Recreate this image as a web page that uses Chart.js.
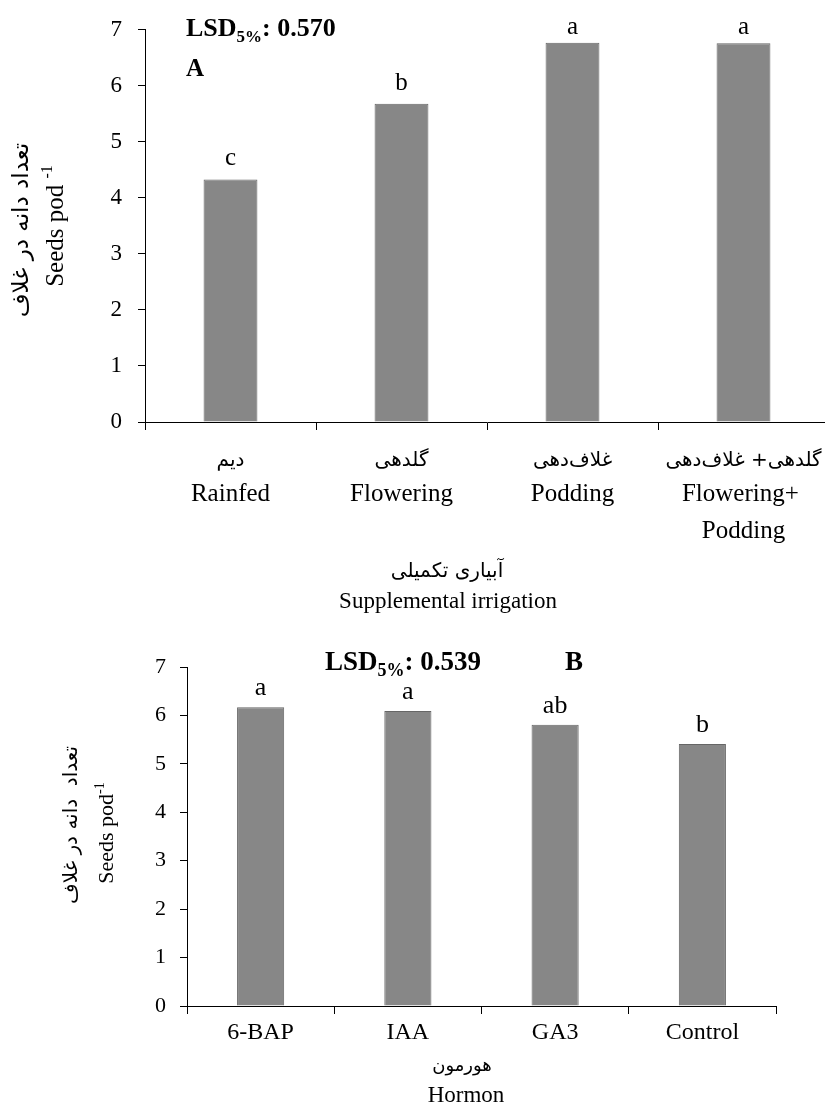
<!DOCTYPE html>
<html><head><meta charset="utf-8">
<script src="https://cdn.jsdelivr.net/npm/chart.js@4.4.1/dist/chart.umd.min.js"></script>
<style>
html,body{margin:0;padding:0;background:#fff;overflow:hidden;width:825px;height:1106px;position:relative;}
#chartA{position:absolute;left:0;top:0;}
#chartB{position:absolute;left:0;top:620px;}
</style></head><body>
<canvas id="chartA" width="840" height="620"></canvas>
<canvas id="chartB" width="825" height="486"></canvas>
<script>
// ---------- DATA ----------
const irrigationLabelsEn = ['Rainfed', 'Flowering', 'Podding', ['Flowering+ ', 'Podding']];
const irrigationLabelsFa = ['دیم', 'گلدهی', 'غلاف\u200Cدهی', 'گلدهی+ غلاف\u200Cدهی'];
const seedsPerPodIrrigation = [4.33, 5.68, 6.77, 6.76];
const lettersIrrigation = ['c', 'b', 'a', 'a'];

const hormoneLabels = ['6-BAP', 'IAA', 'GA3', 'Control'];
const seedsPerPodHormone = [6.17, 6.09, 5.81, 5.41];
const lettersHormone = ['a', 'a', 'ab', 'b'];

const yAxisMin = 0, yAxisMax = 7, yAxisStep = 1;

// ---------- STYLE ----------
const SERIF = "'Liberation Serif', 'Times New Roman', serif";
const FA = "'DejaVu Sans', sans-serif";
const BAR_FILL = '#878787';
const BAR_EDGE = '#666666';

function drawRuns(ctx, runs, x, y, align) {
  let total = 0;
  runs.forEach(r => { ctx.font = r.font; r.w = ctx.measureText(r.text).width; total += r.w; });
  let cx = align === 'center' ? x - total / 2 : x;
  ctx.textAlign = 'left';
  runs.forEach(r => { ctx.font = r.font; ctx.fillText(r.text, cx, y + (r.dy || 0)); cx += r.w; });
}

const annotPlugin = {
  id: 'annot',
  afterDatasetsDraw(chart, args, o) {
    const ctx = chart.ctx;
    ctx.save();
    ctx.fillStyle = '#000';
    ctx.textBaseline = 'alphabetic';
    // significance letters above bars
    const meta = chart.getDatasetMeta(0);
    ctx.font = o.letterFont; ctx.textAlign = 'center';
    meta.data.forEach((bar, i) => {
      const yb = Math.max(bar.y - o.letterGap, o.letterMinY);
      ctx.fillText(o.letters[i], bar.x, yb);
    });
    // Persian category labels
    if (o.faLabels) {
      const xs = chart.scales.x;
      ctx.font = o.faFont; ctx.textAlign = 'center';
      o.faLabels.forEach((t, i) => ctx.fillText(t, xs.getPixelForValue(i), o.faY));
    }
    // x titles
    ctx.textAlign = 'center';
    ctx.font = o.xTitleFaFont; ctx.fillText(o.xTitleFa, o.xTitleFaX, o.xTitleFaY);
    ctx.font = o.xTitleFont; ctx.fillText(o.xTitleEn, o.xTitleEnX, o.xTitleEnY);
    // LSD annotation
    drawRuns(ctx, o.lsdRuns, o.lsdX, o.lsdY, 'left');
    ctx.font = o.panelFont; ctx.textAlign = 'left';
    ctx.fillText(o.panel, o.panelX, o.panelY);
    // rotated y titles
    ctx.textBaseline = 'middle';
    ctx.save();
    ctx.translate(o.yFaX, o.yFaY); ctx.rotate(-Math.PI / 2);
    ctx.font = o.yFaFont; ctx.textAlign = 'center';
    ctx.fillText(o.yTitleFa, 0, 0);
    ctx.restore();
    ctx.save();
    ctx.translate(o.yEnX, o.yEnY); ctx.rotate(-Math.PI / 2);
    drawRuns(ctx, o.yEnRuns, 0, 0, 'center');
    ctx.restore();
    ctx.restore();
  }
};

function axisOpts(cfg) {
  return {
    x: {
      offset: true,
      afterFit: s => { s.height = cfg.xHeight; s.paddingLeft = 0; s.paddingRight = 0; },
      border: { display: true, color: '#000', width: 1 },
      grid: { display: true, offset: true, drawOnChartArea: false, drawTicks: true, tickLength: 8, color: '#000', lineWidth: 1 },
      ticks: { color: '#000', font: { family: SERIF, size: cfg.xFont, lineHeight: cfg.xLine }, padding: cfg.xPad, maxRotation: 0, autoSkip: false }
    },
    y: {
      min: yAxisMin, max: yAxisMax,
      afterFit: s => { s.width = cfg.yWidth; },
      border: { display: true, color: '#000', width: 1 },
      grid: { display: true, drawOnChartArea: false, drawTicks: true, tickLength: 7, color: '#000', lineWidth: 1 },
      ticks: { stepSize: yAxisStep, color: '#000', font: { family: SERIF, size: cfg.yFont }, padding: cfg.yPad }
    }
  };
}

Chart.defaults.animation = false;

new Chart(document.getElementById('chartA'), {
  type: 'bar',
  data: {
    labels: irrigationLabelsEn,
    datasets: [{ data: seedsPerPodIrrigation, backgroundColor: BAR_FILL, borderColor: BAR_EDGE, borderWidth: 1,
      barPercentage: 0.315, categoryPercentage: 1 }]
  },
  options: {
    responsive: false, maintainAspectRatio: false, animation: false, devicePixelRatio: 1,
    layout: { padding: { top: 25, right: 11, left: 0, bottom: 0 } },
    plugins: {
      legend: { display: false }, tooltip: { enabled: false },
      annot: {
        letters: lettersIrrigation, letterFont: `25px ${SERIF}`, letterGap: 14, letterMinY: 34,
        faLabels: irrigationLabelsFa, faFont: `20px ${FA}`, faY: 466,
        xTitleFa: 'آبیاری تکمیلی', xTitleFaFont: `20px ${FA}`, xTitleFaX: 447, xTitleFaY: 577,
        xTitleEn: 'Supplemental irrigation', xTitleFont: `23px ${SERIF}`, xTitleEnX: 448, xTitleEnY: 608,
        lsdRuns: [
          { text: 'LSD', font: `bold 26px ${SERIF}` },
          { text: '5%', font: `bold 17px ${SERIF}`, dy: 6 },
          { text: ': 0.570', font: `bold 26px ${SERIF}` }
        ], lsdX: 186, lsdY: 36,
        panel: 'A', panelFont: `bold 25px ${SERIF}`, panelX: 186, panelY: 76,
        yTitleFa: 'تعداد دانه در غلاف', yFaFont: `23px ${FA}`, yFaX: 22, yFaY: 230,
        yEnRuns: [
          { text: 'Seeds pod ', font: `25px ${SERIF}` },
          { text: '-1', font: `16px ${SERIF}`, dy: -8 }
        ], yEnX: 56, yEnY: 226
      }
    },
    scales: axisOpts({ xHeight: 198, xFont: 25, xLine: 1.48, xPad: 46, yWidth: 145, yFont: 23, yPad: 16 })
  },
  plugins: [annotPlugin]
});

new Chart(document.getElementById('chartB'), {
  type: 'bar',
  data: {
    labels: hormoneLabels,
    datasets: [{ data: seedsPerPodHormone, backgroundColor: BAR_FILL, borderColor: BAR_EDGE, borderWidth: 1,
      barPercentage: 0.32, categoryPercentage: 1 }]
  },
  options: {
    responsive: false, maintainAspectRatio: false, animation: false, devicePixelRatio: 1,
    layout: { padding: { top: 47, right: 49, left: 0, bottom: 0 } },
    plugins: {
      legend: { display: false }, tooltip: { enabled: false },
      annot: {
        letters: lettersHormone, letterFont: `26px ${SERIF}`, letterGap: 12, letterMinY: 0,
        faLabels: null,
        xTitleFa: 'هورمون', xTitleFaFont: `18px ${FA}`, xTitleFaX: 462, xTitleFaY: 451,
        xTitleEn: 'Hormon', xTitleFont: `23px ${SERIF}`, xTitleEnX: 466, xTitleEnY: 482,
        lsdRuns: [
          { text: 'LSD', font: `bold 27px ${SERIF}` },
          { text: '5%', font: `bold 18px ${SERIF}`, dy: 6 },
          { text: ': 0.539', font: `bold 27px ${SERIF}` }
        ], lsdX: 325, lsdY: 50,
        panel: 'B', panelFont: `bold 27px ${SERIF}`, panelX: 565, panelY: 50,
        yTitleFa: 'تعداد  دانه در غلاف', yFaFont: `20px ${FA}`, yFaX: 72, yFaY: 205,
        yEnRuns: [
          { text: 'Seeds pod', font: `22px ${SERIF}` },
          { text: '-1', font: `14px ${SERIF}`, dy: -7 }
        ], yEnX: 107, yEnY: 213
      }
    },
    scales: axisOpts({ xHeight: 100, xFont: 24, xLine: 1.2, xPad: 4, yWidth: 187, yFont: 22, yPad: 14 })
  },
  plugins: [annotPlugin]
});
</script>
</body></html>
